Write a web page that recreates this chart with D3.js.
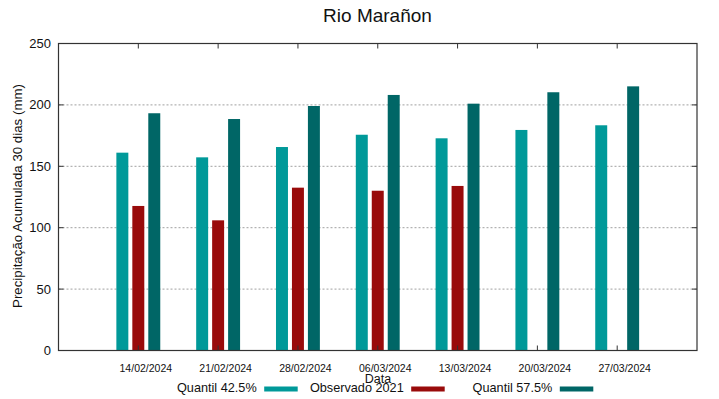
<!DOCTYPE html>
<html>
<head>
<meta charset="utf-8">
<script src="https://cdn.jsdelivr.net/npm/d3@7"></script>
<style>
  html, body { margin: 0; padding: 0; background: #fff; }
  svg { display: block; font-family: "Liberation Sans", Arial, sans-serif; }
</style>
</head>
<body>
<svg id="chart" width="719" height="399"></svg>
<script>
const title = "Rio Marañon";
const dates = ["14/02/2024", "21/02/2024", "28/02/2024", "06/03/2024", "13/03/2024", "20/03/2024", "27/03/2024"];
const quantil425 = [161.1, 157.3, 165.7, 175.7, 172.8, 179.6, 183.4];
const observado2021 = [117.7, 106.0, 132.6, 130.1, 134.0, null, null];
const quantil575 = [193.2, 188.5, 199.1, 208.1, 201.0, 210.3, 215.1];
const yTicks = [0, 50, 100, 150, 200, 250];
const seriesNames = ["Quantil 42.5%", "Observado 2021", "Quantil 57.5%"];
const seriesColors = ["#009999", "#990b0b", "#006666"];

const svg = d3.select("#chart");
const pLeft = 58.5, pRight = 697, pTop = 43.5, pBottom = 350.5;

const x = d3.scaleLinear().domain([-1, 7]).range([pLeft, pRight]);
const y = d3.scaleLinear().domain([0, 250]).range([pBottom, pTop]);

// grid
svg.append("g").selectAll("line").data(yTicks.filter(t => t > 0 && t < 250)).join("line")
  .attr("x1", pLeft).attr("x2", pRight)
  .attr("y1", d => y(d)).attr("y2", d => y(d))
  .attr("stroke", "#a0a0a0").attr("stroke-width", 1)
  .attr("stroke-dasharray", "2,2");

// bars
const series = [quantil425, observado2021, quantil575];
const barW = 0.15, pitch = 0.2;
series.forEach((vals, k) => {
  svg.append("g").selectAll("rect")
    .data(vals.map((v, i) => ({ v, i })).filter(d => d.v != null))
    .join("rect")
    .attr("x", d => x(d.i + (k - 1) * pitch - barW / 2))
    .attr("width", d => x(d.i + barW) - x(d.i))
    .attr("y", d => y(d.v))
    .attr("height", d => y(0) - y(d.v))
    .attr("fill", seriesColors[k]);
});

// frame
svg.append("rect").attr("x", pLeft).attr("y", pTop)
  .attr("width", pRight - pLeft).attr("height", pBottom - pTop)
  .attr("fill", "none").attr("stroke", "#333").attr("stroke-width", 1.2);

// y ticks (both sides, inward)
const yAxisG = svg.append("g");
yTicks.forEach(t => {
  yAxisG.append("line").attr("x1", pLeft).attr("x2", pLeft + 5).attr("y1", y(t)).attr("y2", y(t)).attr("stroke", "#333");
  yAxisG.append("line").attr("x1", pRight).attr("x2", pRight - 5).attr("y1", y(t)).attr("y2", y(t)).attr("stroke", "#333");
  yAxisG.append("text").attr("x", 51).attr("y", y(t)).attr("dy", "0.35em")
    .attr("text-anchor", "end").attr("font-size", 13).attr("fill", "#111").text(t);
});

// x ticks (top and bottom, inward) and labels
const xAxisG = svg.append("g");
dates.forEach((d, i) => {
  xAxisG.append("line").attr("x1", x(i)).attr("x2", x(i)).attr("y1", pTop).attr("y2", pTop + 5).attr("stroke", "#333");
  xAxisG.append("line").attr("x1", x(i)).attr("x2", x(i)).attr("y1", pBottom).attr("y2", pBottom - 5).attr("stroke", "#333");
  xAxisG.append("text").attr("x", x(i) + 7.5).attr("y", 371.5)
    .attr("text-anchor", "middle").attr("font-size", 10.5).attr("fill", "#111").text(d);
});

// title
svg.append("text").attr("x", 377.5).attr("y", 21.7).attr("text-anchor", "middle")
  .attr("font-size", 19).attr("fill", "#111").text(title);

// y label
svg.append("text").attr("transform", "translate(21.5,196) rotate(-90)")
  .attr("text-anchor", "middle").attr("font-size", 13.3).attr("fill", "#111")
  .text("Precipitação Acumulada 30 dias (mm)");

// x label
svg.append("text").attr("x", 378).attr("y", 383).attr("text-anchor", "middle")
  .attr("font-size", 12.5).attr("fill", "#111").text("Data");

// legend
const legendTextEnd = [256.7, 403.7, 552.3];
const legendG = svg.append("g");
seriesNames.forEach((n, k) => {
  legendG.append("text").attr("x", legendTextEnd[k]).attr("y", 392.3)
    .attr("text-anchor", "end").attr("font-size", 12.7).attr("fill", "#111").text(n);
  legendG.append("rect").attr("x", legendTextEnd[k] + 7.5).attr("y", 386.5)
    .attr("width", 33.5).attr("height", 5).attr("fill", seriesColors[k]);
});
</script>
</body>
</html>
